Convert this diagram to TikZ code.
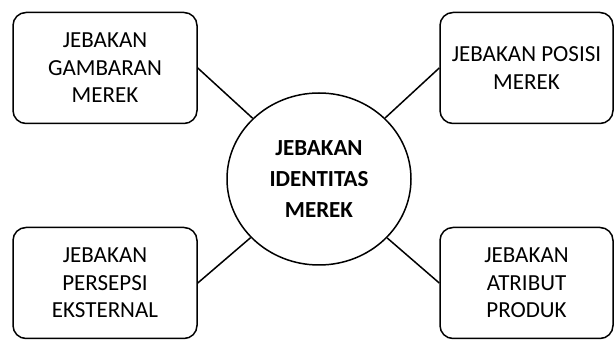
\documentclass[tikz,border=0pt]{standalone}
\usepackage{fontspec}
\setmainfont{Carlito}
\usetikzlibrary{shapes.geometric}

\tikzset{
  trapbox/.style={draw, line width=1.5pt, rounded corners=13pt, align=center,
    font=\fontsize{23}{27.5}\selectfont},
  core/.style={draw, ellipse, line width=1.5pt, align=center, inner sep=0pt,
    minimum width=184pt, minimum height=172pt,
    font=\fontsize{23}{31}\selectfont\bfseries}
}

\begin{document}
\begin{tikzpicture}[x=1pt,y=1pt]

% Frame
\useasboundingbox (0,0) rectangle (614,340);

% Parameters
\def\wl{184}
\def\wr{173}
\def\h{111}

% Centre
\node[core] (identitas) at (319,161) {JEBAKAN\\IDENTITAS\\MEREK};

% Boxes
\node[trapbox, minimum width=\wl pt, minimum height=\h pt] (gambaran) at (105,272) {JEBAKAN\\GAMBARAN\\MEREK};
\node[trapbox, minimum width=\wr pt, minimum height=\h pt] (posisi) at (526.5,272) {JEBAKAN POSISI\\MEREK};
\node[trapbox, minimum width=\wl pt, minimum height=\h pt] (persepsi) at (105,57) {JEBAKAN\\PERSEPSI\\EKSTERNAL};
\node[trapbox, minimum width=\wr pt, minimum height=\h pt] (atribut) at (526.5,57) {JEBAKAN\\ATRIBUT\\PRODUK};

% Links
\draw[line width=1.5pt] (identitas) -- (gambaran.east);
\draw[line width=1.5pt] (identitas) -- (posisi.west);
\draw[line width=1.5pt] (identitas) -- (persepsi.east);
\draw[line width=1.5pt] (identitas) -- (atribut.west);

\end{tikzpicture}
\end{document}
